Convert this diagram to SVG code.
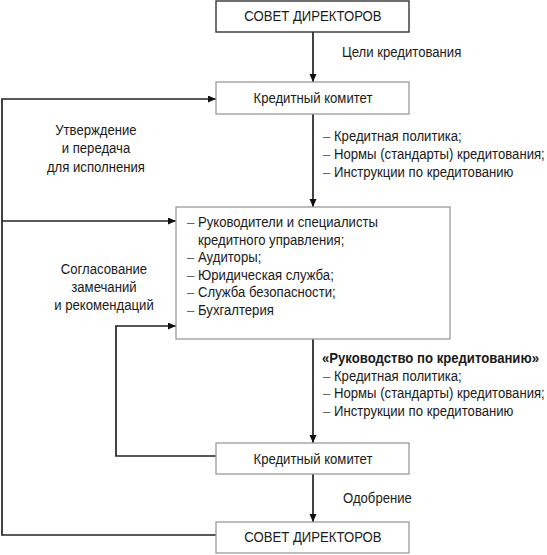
<svg xmlns="http://www.w3.org/2000/svg" width="547" height="555" viewBox="0 0 547 555">
<style>
text{font-family:"Liberation Sans",Arial,sans-serif;font-size:14.3px;fill:#1a1a1a}
.n{transform:scale(0.92,1)}
.c{text-anchor:middle}
.b{font-weight:bold}
.d{fill:#666}
.box{fill:#fff;stroke:#9a9a9a;stroke-width:1.3}
.boxd{fill:#fff;stroke:#333;stroke-width:1.4}
.ln{fill:none;stroke:#222;stroke-width:1.7}
</style>
<defs>
<marker id="ah" markerUnits="userSpaceOnUse" markerWidth="9" markerHeight="8" refX="8" refY="3.5" orient="auto">
<path d="M0,0 L8,3.5 L0,7 z" fill="#111"/>
</marker>
</defs>
<rect width="547" height="555" fill="#fff"/>
<g id="connectors">
<path class="ln" d="M313,32 V82" marker-end="url(#ah)"/>
<path class="ln" d="M216,535 H2 V99 H216" marker-end="url(#ah)"/>
<path class="ln" d="M2,221 H176" marker-end="url(#ah)"/>
<path class="ln" d="M313,114 V207" marker-end="url(#ah)"/>
<path class="ln" d="M313,339 V443" marker-end="url(#ah)"/>
<path class="ln" d="M216,456 H116 V326 H176" marker-end="url(#ah)"/>
<path class="ln" d="M313,474 V522" marker-end="url(#ah)"/>
</g>
<g id="board-top">
<rect class="boxd" x="216" y="1" width="193" height="31"/>
<text class="c n" x="340.2" y="21.5">СОВЕТ ДИРЕКТОРОВ</text>
</g>
<g id="committee-1">
<rect class="box" x="216" y="82" width="193" height="32"/>
<text class="c n" x="340.2" y="103.5">Кредитный комитет</text>
</g>
<g id="departments">
<rect class="box" x="176" y="207" width="274" height="132"/>
<g class="n">
<text x="203.3" y="227"><tspan class="d">–</tspan> Руководители и специалисты</text>
<text x="215.2" y="245">кредитного управления;</text>
<text x="203.3" y="262"><tspan class="d">–</tspan> Аудиторы;</text>
<text x="203.3" y="280"><tspan class="d">–</tspan> Юридическая служба;</text>
<text x="203.3" y="297"><tspan class="d">–</tspan> Служба безопасности;</text>
<text x="203.3" y="315"><tspan class="d">–</tspan> Бухгалтерия</text>
</g>
</g>
<g id="committee-2">
<rect class="box" x="216" y="443" width="193" height="31"/>
<text class="c n" x="340.2" y="464">Кредитный комитет</text>
</g>
<g id="board-bottom">
<rect class="box" x="216" y="522" width="193" height="31"/>
<text class="c n" x="340.2" y="542.5">СОВЕТ ДИРЕКТОРОВ</text>
</g>
<g id="labels" class="n">
<text x="371.7" y="57">Цели кредитования</text>
<text x="351.1" y="141"><tspan class="d">–</tspan> Кредитная политика;</text>
<text x="351.1" y="159"><tspan class="d">–</tspan> Нормы (стандарты) кредитования;</text>
<text x="351.1" y="177"><tspan class="d">–</tspan> Инструкции по кредитованию</text>
<text class="c" x="104.3" y="135">Утверждение</text>
<text class="c" x="104.3" y="153">и передача</text>
<text class="c" x="104.3" y="172">для исполнения</text>
<text class="c" x="113" y="274">Согласование</text>
<text class="c" x="113" y="292">замечаний</text>
<text class="c" x="113" y="310">и рекомендаций</text>
<text class="b" x="350" y="363">«Руководство по кредитованию»</text>
<text x="351.1" y="381"><tspan class="d">–</tspan> Кредитная политика;</text>
<text x="351.1" y="398"><tspan class="d">–</tspan> Нормы (стандарты) кредитования;</text>
<text x="351.1" y="416"><tspan class="d">–</tspan> Инструкции по кредитованию</text>
<text x="372.8" y="503">Одобрение</text>
</g>
</svg>
